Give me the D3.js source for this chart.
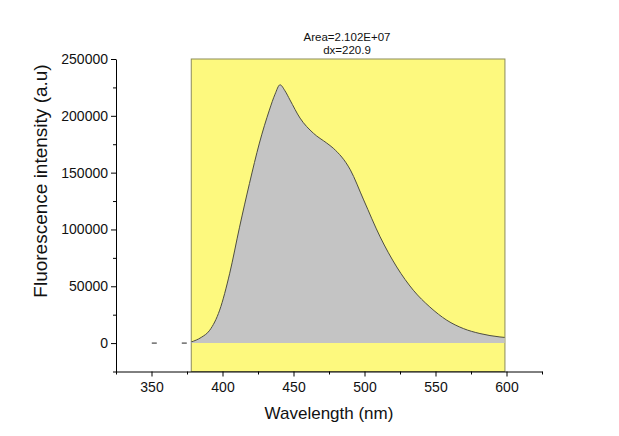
<!DOCTYPE html>
<html>
<head>
<meta charset="utf-8">
<script src="https://cdn.jsdelivr.net/npm/d3@7"></script>
<style>
  html, body { margin: 0; padding: 0; background: #ffffff; }
  svg { display: block; font-family: "Liberation Sans", Arial, sans-serif; }
</style>
</head>
<body>
<svg id="chart" width="619" height="436"></svg>
<script>
// ---- data ----
const wavelength = [378, 385, 391, 398, 405, 412, 419, 426, 433, 437, 440.5, 444, 447.5, 454.6, 464, 473.4, 478, 490, 499.4, 511, 522.7, 534.4, 546, 558, 569.6, 581.3, 595.4, 598.7];
const intensity  = [1000, 5000, 11300, 29000, 61000, 102000, 140500, 176000, 205000, 219000, 227300, 222000, 214000, 198000, 184700, 176000, 171500, 152500, 126000, 93500, 67000, 46500, 31800, 20100, 12800, 8400, 5400, 5000];
const baselineX = [350.2, 378];          // dashed baseline before integration region
const regionX = [378, 598.9];             // integration range (dx = 220.9)
const xMajorTicks = [350, 400, 450, 500, 550, 600];
const xMinorTicks = [325, 375, 425, 475, 525, 575, 625];
const yMajorTicks = [0, 50000, 100000, 150000, 200000, 250000];
const yMinorTicks = [-25000, 25000, 75000, 125000, 175000, 225000];
const annotation = ["Area=2.102E+07", "dx=220.9"];
const xTitle = "Wavelength (nm)";
const yTitle = "Fluorescence intensity (a.u)";

// ---- layout ----
const svg = d3.select("#chart");
const x = d3.scaleLinear().domain([325, 625]).range([116, 542]);
const y = d3.scaleLinear().domain([-25000, 250000]).range([371.5, 59]);

// yellow integration region
svg.append("rect")
  .attr("x", x(regionX[0]))
  .attr("y", y(250000))
  .attr("width", x(regionX[1]) - x(regionX[0]))
  .attr("height", y(-25000) - y(250000))
  .attr("fill", "#fdf97e")
  .attr("stroke", "#8c8c5a")
  .attr("stroke-width", 1);

const pts = wavelength.map((w, i) => [w, intensity[i]]);

// filled area
svg.append("path")
  .datum(pts)
  .attr("fill", "#c4c4c4")
  .attr("d", d3.area().x(d => x(d[0])).y0(y(0)).y1(d => y(d[1])).curve(d3.curveMonotoneX));

// curve line
svg.append("path")
  .datum(pts)
  .attr("fill", "none")
  .attr("stroke", "#4e4e40")
  .attr("stroke-width", 1)
  .attr("d", d3.line().x(d => x(d[0])).y(d => y(d[1])).curve(d3.curveMonotoneX));

// dashed baseline outside region
svg.append("path")
  .datum(baselineX.map(v => [v, 0]))
  .attr("fill", "none")
  .attr("stroke", "#222")
  .attr("stroke-width", 1)
  .attr("stroke-dasharray", "5,25")
  .attr("d", d3.line().x(d => x(d[0])).y(d => y(d[1])));

// ---- axes ----
const xAxisG = svg.append("g").attr("transform", `translate(0,${y(-25000)})`);
xAxisG.call(d3.axisBottom(x).tickValues(xMajorTicks).tickSize(5).tickSizeOuter(0).tickPadding(6).tickFormat(d3.format("d")));
const xMinorG = svg.append("g").attr("transform", `translate(0,${y(-25000)})`);
xMinorG.call(d3.axisBottom(x).tickValues(xMinorTicks).tickSize(3).tickSizeOuter(0).tickFormat(""));
xMinorG.select(".domain").remove();

const yAxisG = svg.append("g").attr("transform", `translate(${x(325)},0)`);
yAxisG.call(d3.axisLeft(y).tickValues(yMajorTicks).tickSize(5).tickSizeOuter(0).tickPadding(3).tickFormat(d3.format("d")));
const yMinorG = svg.append("g").attr("transform", `translate(${x(325)},0)`);
yMinorG.call(d3.axisLeft(y).tickValues(yMinorTicks).tickSize(3).tickSizeOuter(0).tickFormat(""));
yMinorG.select(".domain").remove();

svg.selectAll(".tick text").attr("font-size", 14).attr("fill", "#111").attr("font-family", "Liberation Sans, Arial, sans-serif");
svg.selectAll(".domain, .tick line").attr("stroke", "#000").attr("stroke-width", 1);

// axis titles
svg.append("text")
  .attr("x", 329).attr("y", 419)
  .attr("text-anchor", "middle")
  .attr("font-size", 17)
  .attr("fill", "#111")
  .text(xTitle);

svg.append("text")
  .attr("transform", "translate(47,181) rotate(-90)")
  .attr("text-anchor", "middle")
  .attr("font-size", 19)
  .attr("fill", "#111")
  .text(yTitle);

// annotation
annotation.forEach((t, i) => {
  svg.append("text")
    .attr("x", 347).attr("y", 41 + i * 13)
    .attr("text-anchor", "middle")
    .attr("font-size", 11.5)
    .attr("fill", "#111")
    .text(t);
});
</script>
</body>
</html>
